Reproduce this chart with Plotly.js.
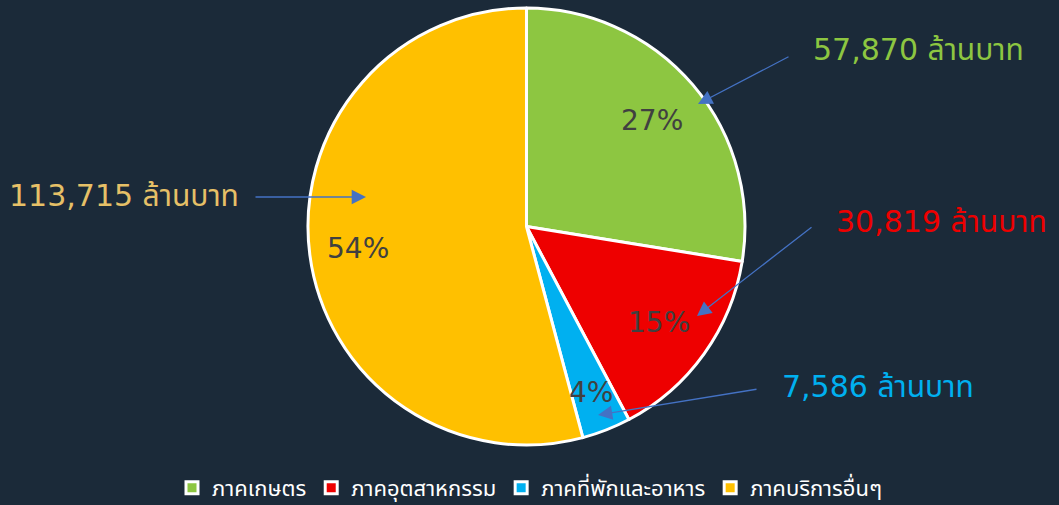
<!DOCTYPE html>
<html>
<head>
<meta charset="utf-8">
<script src="https://cdn.plot.ly/plotly-3.0.1.min.js"></script>
<style>html,body{margin:0;padding:0;background:#1b2a39;}#chart{width:1059px;height:505px;}</style>
</head>
<body>
<div id="chart"></div>
<script>
const categories = ['ภาคเกษตร', 'ภาคอุตสาหกรรม', 'ภาคที่พักและอาหาร', 'ภาคบริการอื่นๆ'];
const values = [57870, 30819, 7586, 113715];
const percentLabels = ['27%', '15%', '4%', '54%'];
const valueLabels = ['57,870 ล้านบาท', '30,819 ล้านบาท', '7,586 ล้านบาท', '113,715 ล้านบาท'];
const sliceColors = ['#8dc641', '#ee0000', '#00b0f0', '#ffc000'];
const labelColors = ['#8dc641', '#ee0000', '#00b0f0', '#e6c067'];

const W = 1059, H = 505;
const px = v => v / W;
const py = v => 1 - v / H;

// label text positions, percent label positions and arrow tail/head (pixels)
const labelPos = [[918, 50], [941, 222], [878, 386], [124, 195]];
const percentPos = [[652, 120], [659, 322], [591, 392], [358, 248]];
const arrows = [[[790, 56], [698, 104]], [[813, 226], [697, 316]], [[758, 389], [598, 415]], [[254, 197], [366, 197]]];

const font = '"DejaVu Sans", "Noto Sans Thai", "Noto Sans", sans-serif';

const annotations = [];
valueLabels.forEach((t, i) => {
  annotations.push({
    text: t, x: px(labelPos[i][0]), y: py(labelPos[i][1]), xref: 'paper', yref: 'paper',
    xanchor: 'center', yanchor: 'middle', showarrow: false,
    font: {family: font, size: 30, color: labelColors[i]}
  });
});
percentLabels.forEach((t, i) => {
  annotations.push({
    text: t, x: px(percentPos[i][0]), y: py(percentPos[i][1]), xref: 'paper', yref: 'paper',
    xanchor: 'center', yanchor: 'middle', showarrow: false,
    font: {family: font, size: 28, color: '#404040'}
  });
});
arrows.forEach(a => {
  annotations.push({
    text: '', x: px(a[1][0]), y: py(a[1][1]), xref: 'paper', yref: 'paper',
    ax: px(a[0][0]), ay: py(a[0][1]), axref: 'paper', ayref: 'paper',
    showarrow: true, arrowhead: 2, arrowsize: 2.2, arrowwidth: 1.3, arrowcolor: '#4472c4', standoff: 0, startstandoff: 0
  });
});

const data = [{
  type: 'pie',
  labels: categories,
  values: values,
  textinfo: 'none',
  sort: false,
  direction: 'clockwise',
  rotation: 0,
  marker: {colors: sliceColors, line: {color: '#ffffff', width: 3}},
  domain: {x: [0, 0.9943], y: [60 / H, 1 - 8 / H]},
  hoverinfo: 'label+value'
}];

const layout = {
  width: W, height: H,
  paper_bgcolor: '#1b2a39', plot_bgcolor: '#1b2a39',
  margin: {l: 0, r: 0, t: 0, b: 0, autoexpand: false},
  showlegend: true,
  legend: {
    orientation: 'h', x: 0.5, xanchor: 'center', y: 0.034, yanchor: 'middle',
    font: {family: font, size: 22, color: '#ffffff'},
    itemwidth: 30, traceorder: 'normal'
  },
  annotations: annotations
};

Plotly.newPlot('chart', data, layout, {displayModeBar: false});
</script>
</body>
</html>
